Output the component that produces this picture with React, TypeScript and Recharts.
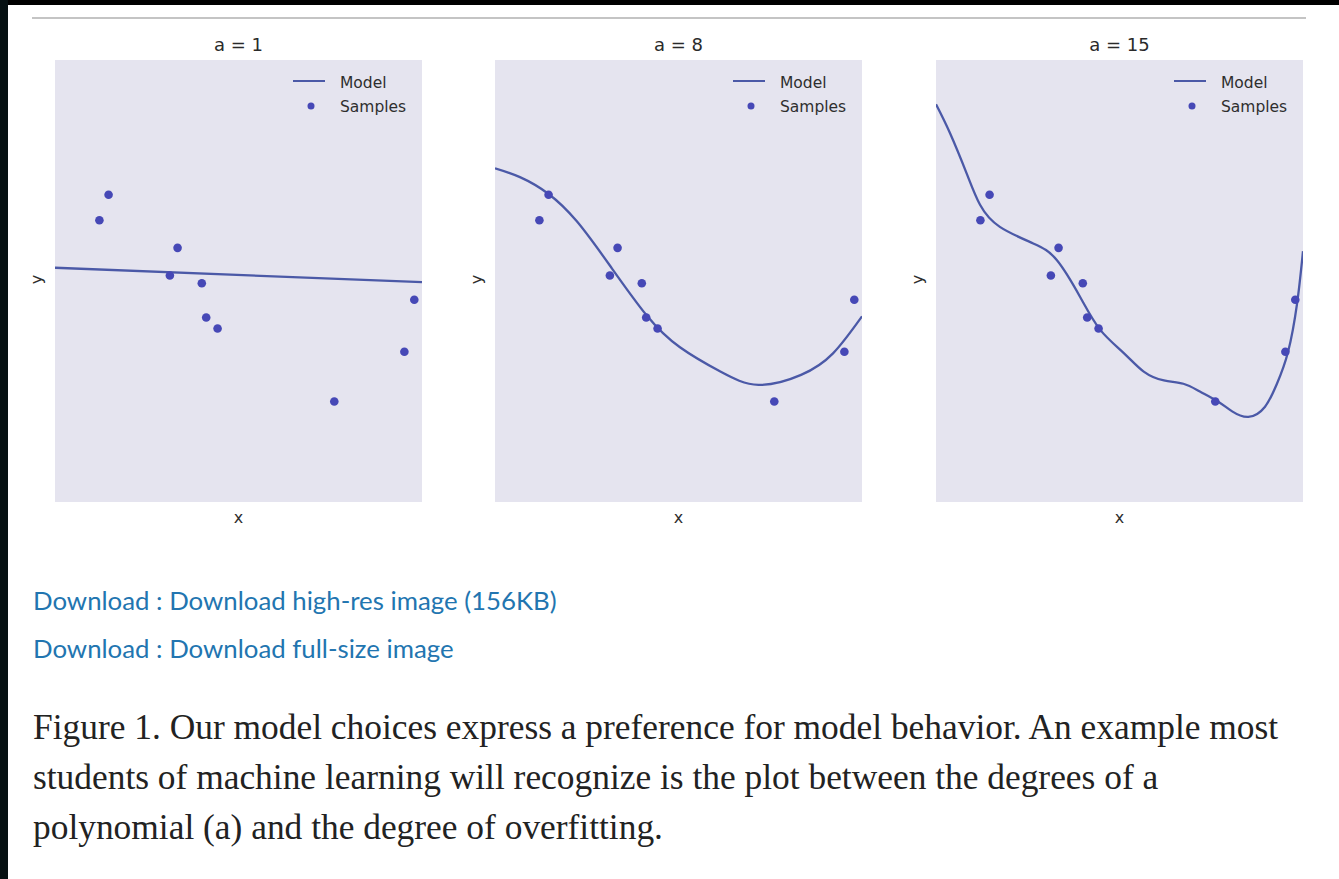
import React from "react"
import { ComposedChart, Line, Scatter, XAxis, YAxis } from "recharts"

// sample points (same in every panel)
const sampleX = [0.121, 0.146, 0.313, 0.334, 0.4, 0.412, 0.443, 0.761, 0.952, 0.979]
const sampleY = [0.55, 0.78, 0.05, 0.3, -0.02, -0.33, -0.43, -1.09, -0.64, -0.17]

// fitted models
const fit1X = [0, 1]
const fit1Y = [0.12, -0.01]
const fit8X = [0, 0.068, 0.145, 0.223, 0.313, 0.413, 0.504, 0.614, 0.718, 0.834, 0.921, 1]
const fit8Y = [1.02, 0.94, 0.79, 0.54, 0.14, -0.31, -0.6, -0.82, -0.94, -0.85, -0.655, -0.32]
const fit15X = [0, 0.038, 0.084, 0.12, 0.174, 0.265, 0.329, 0.392, 0.447, 0.511, 0.566, 0.621, 0.674, 0.719, 0.768, 0.807, 0.851, 0.896, 0.929, 0.959, 0.984, 1]
const fit15Y = [1.6, 1.34, 0.97, 0.69, 0.49, 0.34, 0.19, -0.14, -0.44, -0.65, -0.82, -0.9, -0.93, -1.0, -1.09, -1.18, -1.23, -1.14, -0.93, -0.645, -0.2, 0.27]

const titles = ["a = 1", "a = 8", "a = 15"]
const panelLeft = [55, 495, 936]

const captionLines = [
  "Figure 1. Our model choices express a preference for model behavior. An example most",
  "students of machine learning will recognize is the plot between the degrees of a",
  "polynomial (a) and the degree of overfitting.",
]
const downloadLinks = ["Download : Download high-res image (156KB)", "Download : Download full-size image"]

const toPoints = (xs: number[], ys: number[]) => xs.map((x, i) => ({ x, y: ys[i] }))
const samples = toPoints(sampleX, sampleY)
const fits = [toPoints(fit1X, fit1Y), toPoints(fit8X, fit8Y), toPoints(fit15X, fit15Y)]

const W = 367
const H = 442
const LINE = "#4b59a7"
const DOT = "#4648b6"
const mpl = "'DejaVu Sans', sans-serif"

function Dot(props: any) {
  return <circle cx={props.cx} cy={props.cy} r={4.3} fill={DOT} />
}

function Panel({ i }: { i: number }) {
  return (
    <div style={{ position: "absolute", left: panelLeft[i], top: 60, width: W, height: H, background: "#e5e4ef" }}>
      <div style={{ position: "absolute", left: 0, width: W, top: -25, textAlign: "center", fontFamily: mpl, fontSize: 18, color: "#2a2a2a", lineHeight: "20px" }}>
        {titles[i]}
      </div>
      <ComposedChart width={W} height={H} margin={{ top: 0, right: 0, bottom: 0, left: 0 }}>
        <XAxis type="number" dataKey="x" domain={[0, 1]} hide />
        <YAxis type="number" dataKey="y" domain={[-2, 2]} hide />
        <Line data={fits[i]} dataKey="y" type="natural" stroke={LINE} strokeWidth={2.3} dot={false} isAnimationActive={false} />
        <Scatter data={samples} dataKey="y" fill={DOT} shape={<Dot />} isAnimationActive={false} />
      </ComposedChart>
      <svg style={{ position: "absolute", left: 230, top: 10 }} width={50} height={50}>
        <line x1={8} x2={40} y1={11} y2={11} stroke={LINE} strokeWidth={2} />
        <circle cx={26} cy={36} r={3.5} fill={DOT} />
      </svg>
      <div style={{ position: "absolute", left: 285, top: 11, fontFamily: mpl, fontSize: 15.5, color: "#2e2e2e", lineHeight: "24px" }}>
        <div>Model</div>
        <div>Samples</div>
      </div>
      <div style={{ position: "absolute", left: 0, width: W, top: H + 6, textAlign: "center", fontFamily: mpl, fontSize: 16, color: "#2e2e2e" }}>x</div>
      <div style={{ position: "absolute", left: -23, top: H / 2 - 11, fontFamily: mpl, fontSize: 16, color: "#2e2e2e", transform: "rotate(-90deg)" }}>y</div>
    </div>
  )
}

export default function App() {
  return (
    <div style={{ position: "absolute", left: 0, top: 0, width: 1339, height: 879, background: "#fff", overflow: "hidden" }}>
      <div style={{ position: "absolute", left: 0, top: 0, width: 1339, height: 5, background: "#000" }} />
      <div style={{ position: "absolute", left: 0, top: 0, width: 8, height: 879, background: "#061012" }} />
      <div style={{ position: "absolute", left: 32, top: 17, width: 1274, height: 2, background: "#c4c4c4" }} />
      {titles.map((_, i) => (
        <Panel key={i} i={i} />
      ))}
      {downloadLinks.map((t, i) => (
        <div key={t} style={{ position: "absolute", left: 33, top: 584 + i * 48, fontFamily: "Lato, sans-serif", fontSize: 25.8, color: "#2275b0", whiteSpace: "nowrap", lineHeight: "32px" }}>
          {t}
        </div>
      ))}
      {captionLines.map((t, i) => (
        <div key={i} style={{ position: "absolute", left: 33, top: 707 + i * 50, fontFamily: "'Liberation Serif', serif", fontSize: 35.4, color: "#222", whiteSpace: "nowrap", lineHeight: "40px" }}>
          {t}
        </div>
      ))}
    </div>
  )
}
